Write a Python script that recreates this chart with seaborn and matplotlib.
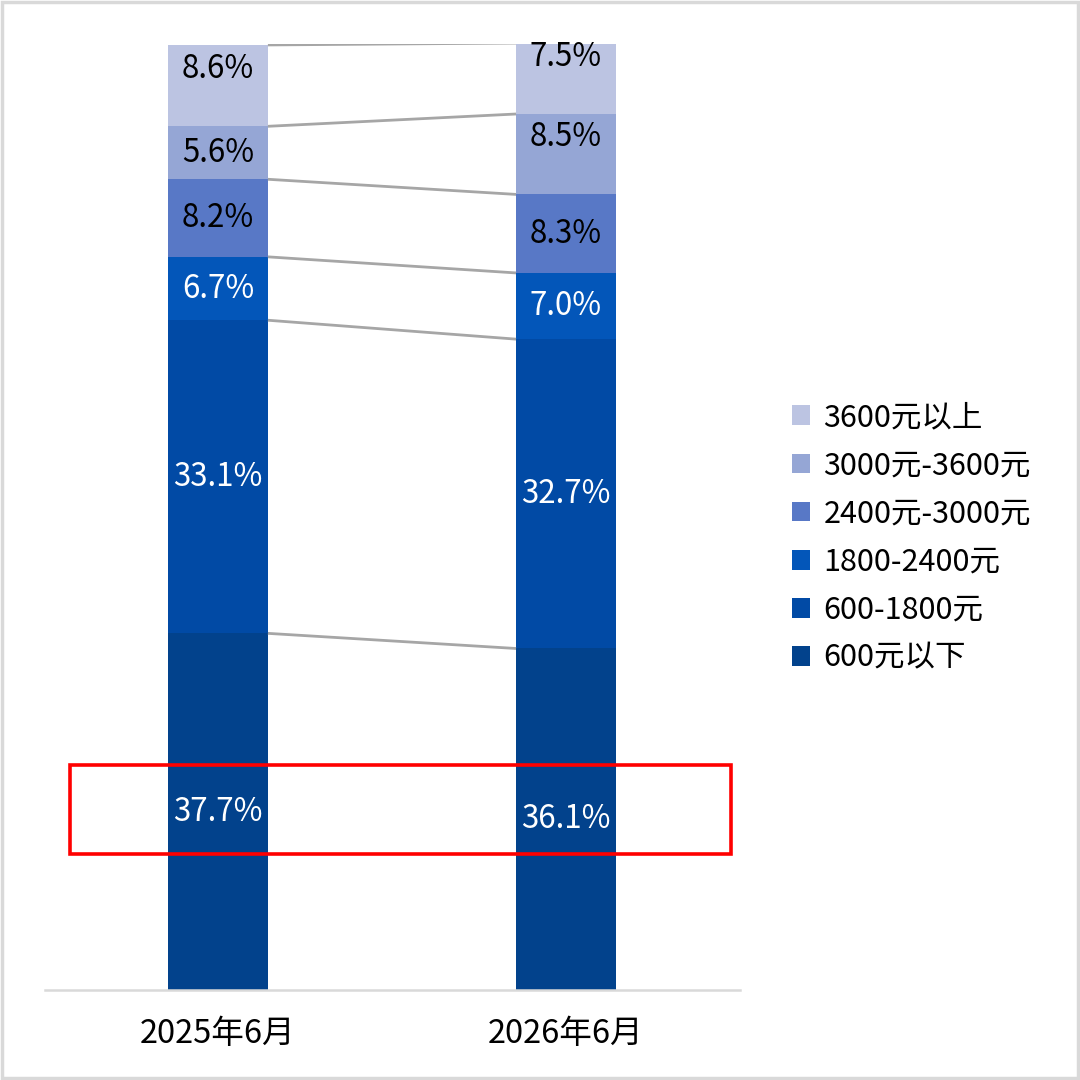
import numpy as np
import pandas as pd
import matplotlib
matplotlib.use("Agg")
import matplotlib.pyplot as plt
from matplotlib.patches import Patch, Rectangle
import seaborn as sns

# Data: share of each income band (%), bottom band first
periods = ["2025年6月", "2026年6月"]
bands = ["600元以下", "600-1800元", "1800-2400元", "2400元-3000元", "3000元-3600元", "3600元以上"]
share_2025 = [37.7, 33.1, 6.7, 8.2, 5.6, 8.6]
share_2026 = [36.1, 32.7, 7.0, 8.3, 8.5, 7.5]

colors = ["#02428C", "#014AA5", "#0356B9", "#5878C6", "#95A6D5", "#BCC4E2"]
label_colors = ["white", "white", "white", "black", "black", "black"]

sns.set_theme(style="white")
plt.rcParams["font.family"] = ["Noto Sans CJK SC", "DejaVu Sans"]
plt.rcParams["text.color"] = "black"

df = pd.DataFrame({"period": np.repeat(periods, len(bands)),
                   "band": bands * len(periods),
                   "share": share_2025 + share_2026})
df["cum"] = df.groupby("period")["share"].cumsum()
df["base"] = df["cum"] - df["share"]

fig = plt.figure(figsize=(10.8, 10.8), dpi=100)
ax = fig.add_axes([45 / 1080, 90 / 1080, 695 / 1080, 946 / 1080])

bar_w = 0.287
# stacked bars: draw cumulative totals from the top band down so lower bands overlay
for band, col in reversed(list(zip(bands, colors))):
    sub = df[df["band"] == band]
    sns.barplot(data=sub, x="period", y="cum", order=periods, color=col,
                saturation=1, width=bar_w, linewidth=0, ax=ax, errorbar=None)

# connector lines between the segment boundaries of the two bars
c25 = df[df["period"] == periods[0]]["cum"].to_numpy()
c26 = df[df["period"] == periods[1]]["cum"].to_numpy()
for a, b in zip(c25, c26):
    ax.plot([0 + bar_w / 2, 1 - bar_w / 2], [a, b], color="#A6A6A6", lw=2, zorder=1,
            solid_capstyle="butt")

# value labels, centred in each segment (a few nudged upward)
nudge = {(periods[0], bands[5]): -1.8, (periods[1], bands[5]): -2.3,
         (periods[1], bands[4]): -1.8}
for _, r in df.iterrows():
    xi = periods.index(r["period"])
    bi = bands.index(r["band"])
    y = r["base"] + r["share"] / 2 - nudge.get((r["period"], r["band"]), 0)
    ax.text(xi, y, f"{r['share']:.1f}%", ha="center", va="center",
            fontsize=22.5, color=label_colors[bi], zorder=5)

ax.set_xlim(-0.497, 1.5)
ax.set_ylim(0, 100)
ax.set_xlabel("")
ax.set_ylabel("")
ax.set_yticks([])
for s in ["top", "left", "right"]:
    ax.spines[s].set_visible(False)
ax.spines["bottom"].set_color("#D9D9D9")
ax.spines["bottom"].set_linewidth(1.8)
ax.tick_params(axis="x", length=0, pad=20, labelsize=23.5, colors="black")

# highlight box around the lowest band
ax.add_patch(Rectangle((-0.425, 14.4), 1.899, 9.4, fill=False, edgecolor="#FF0000",
                       lw=2.6, clip_on=False, zorder=6))

# legend, top band first
handles = [Patch(facecolor=c, edgecolor="none") for c in reversed(colors)]
fig.legend(handles, list(reversed(bands)), loc="center left",
           bbox_to_anchor=(764 / 1080, 0.502), frameon=False, fontsize=22,
           handlelength=0.62, handleheight=0.62, handletextpad=0.42,
           labelspacing=0.56, labelcolor="black")

# thin frame round the figure
fig.add_artist(Rectangle((2 / 1080, 2 / 1080), 1076 / 1080, 1076 / 1080,
                         transform=fig.transFigure, fill=False,
                         edgecolor="#D9D9D9", lw=2.5))

fig.savefig("out.png", dpi=100, facecolor="white")
